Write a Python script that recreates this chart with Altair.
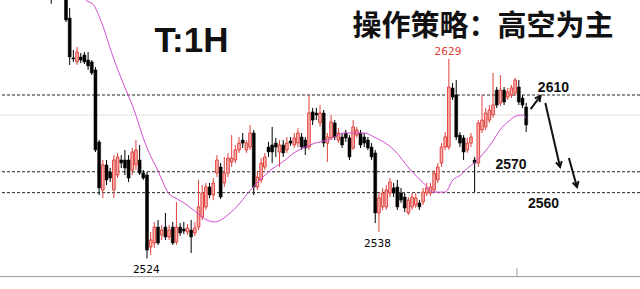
import altair as alt
import pandas as pd

# ---- candle data (price units) ----
opens = [2668, 2662, 2666, 2664, 2662, 2650.5, 2629.5, 2627.4, 2630.0, 2631.1,
         2628.4, 2627.4, 2623.2, 2585.3, 2560.0, 2573.2, 2569.5, 2560.0, 2567.9, 2575.8,
         2575.8, 2575.8, 2570.5, 2573.2, 2575.8, 2568.9, 2567.9, 2530.0, 2532.1, 2540.5,
         2536.3, 2540.5, 2535.3, 2540.5, 2532.6, 2540.5, 2539.5, 2537.9, 2538.9, 2537.4,
         2540.5, 2545.8, 2551.1, 2561.6, 2557.4, 2568.9, 2572.1, 2563.7, 2568.9, 2574.7,
         2575.8, 2581.1, 2586.3, 2581.1, 2582.6, 2590.0, 2561.6, 2565.3, 2572.1, 2582.6,
         2583.7, 2584.7, 2580.0, 2583.7, 2581.1, 2585.8, 2583.7, 2584.7, 2587.9, 2586.3,
         2582.6, 2601.1, 2600.5, 2595.3, 2600.5, 2584.7, 2587.4, 2595.3, 2586.3, 2587.9,
         2590.0, 2587.4, 2582.1, 2588.9, 2590.0, 2587.9, 2586.3, 2582.6, 2579.5, 2547.9,
         2551.1, 2551.1, 2558.4, 2561.1, 2561.6, 2558.4, 2556.3, 2547.9, 2551.1, 2552.1,
         2553.2, 2553.7, 2558.4, 2558.4, 2560.0, 2565.3, 2574.2, 2582.6, 2582.6, 2613.7,
         2610.0, 2588.9, 2587.4, 2581.1, 2584.7, 2575.8, 2574.2, 2591.6, 2593.2, 2596.8,
         2599.5, 2612.6, 2605.8, 2612.6, 2608.9, 2610.0, 2611.1, 2614.2, 2608.4, 2603.7]
highs = [2672, 2670, 2669, 2667, 2664, 2655.8, 2633.7, 2635.3, 2632.1, 2632.6,
         2632.6, 2628.4, 2624.7, 2586.3, 2575.8, 2575.8, 2571.6, 2578.4, 2579.5, 2578.4,
         2581.1, 2578.4, 2582.1, 2586.3, 2583.7, 2570.5, 2569.5, 2537.9, 2543.2, 2544.2,
         2541.6, 2547.9, 2541.6, 2543.2, 2553.7, 2542.6, 2543.2, 2542.1, 2544.2, 2543.2,
         2565.3, 2562.6, 2563.7, 2563.7, 2566.3, 2578.4, 2574.2, 2577.4, 2579.5, 2588.9,
         2583.7, 2587.9, 2590.0, 2586.3, 2594.2, 2591.6, 2569.5, 2576.8, 2579.5, 2585.3,
         2593.2, 2587.4, 2586.3, 2586.3, 2587.9, 2587.9, 2590.0, 2592.6, 2590.0, 2587.9,
         2610.0, 2603.2, 2603.2, 2604.7, 2602.1, 2590.0, 2599.5, 2596.8, 2592.6, 2590.0,
         2591.6, 2588.9, 2596.8, 2593.2, 2591.6, 2590.0, 2587.9, 2584.7, 2581.1, 2558.4,
         2561.1, 2562.6, 2566.3, 2563.7, 2565.3, 2561.1, 2558.4, 2556.3, 2558.4, 2558.4,
         2554.7, 2561.1, 2563.7, 2563.7, 2570.5, 2574.2, 2584.7, 2590.5, 2629.0, 2616.3,
         2617.9, 2590.5, 2588.9, 2587.4, 2590.0, 2577.4, 2596.8, 2610.0, 2603.2, 2604.7,
         2621.6, 2614.2, 2620.5, 2614.2, 2613.7, 2615.3, 2619.0, 2617.9, 2610.0, 2605.8]
lows = [2658, 2661, 2661, 2661, 2648.4, 2625.8, 2627.4, 2625.8, 2626.8, 2626.3,
        2623.2, 2620.5, 2580.0, 2557.4, 2555.8, 2562.6, 2564.2, 2555.8, 2566.3, 2571.6,
        2567.9, 2564.2, 2567.9, 2570.5, 2567.9, 2565.3, 2524.0, 2525.8, 2529.5, 2531.1,
        2533.7, 2533.7, 2533.7, 2531.1, 2531.1, 2535.8, 2536.8, 2536.3, 2526.8, 2535.8,
        2538.9, 2544.2, 2549.5, 2555.8, 2554.7, 2566.8, 2555.3, 2561.6, 2566.8, 2572.1,
        2574.2, 2579.5, 2582.1, 2579.5, 2581.1, 2557.4, 2560.0, 2563.7, 2570.5, 2577.4,
        2574.2, 2577.4, 2572.1, 2577.4, 2579.5, 2583.2, 2582.1, 2582.6, 2581.1, 2578.4,
        2581.1, 2594.2, 2596.8, 2593.2, 2582.6, 2574.7, 2586.3, 2586.3, 2584.7, 2582.1,
        2585.3, 2575.8, 2581.1, 2587.4, 2582.1, 2582.6, 2581.1, 2575.8, 2542.6, 2538.0,
        2549.5, 2549.5, 2556.3, 2556.3, 2549.5, 2553.2, 2548.4, 2546.8, 2549.5, 2550.5,
        2549.5, 2552.1, 2556.8, 2556.8, 2558.4, 2563.7, 2572.1, 2581.1, 2581.1, 2607.4,
        2586.3, 2582.6, 2575.8, 2579.5, 2582.6, 2558.9, 2572.1, 2590.0, 2591.6, 2595.3,
        2597.9, 2603.2, 2604.2, 2604.7, 2607.4, 2608.4, 2609.5, 2604.7, 2603.2, 2590.5]
closes = [2662, 2666, 2663, 2661.5, 2649.5, 2630.0, 2629.0, 2632.6, 2628.4, 2627.4,
          2625.3, 2621.6, 2581.1, 2561.1, 2573.2, 2565.3, 2566.3, 2575.8, 2577.4, 2574.2,
          2571.6, 2566.3, 2580.0, 2581.1, 2568.9, 2566.3, 2528.4, 2533.7, 2540.5, 2532.1,
          2538.9, 2535.3, 2538.9, 2532.1, 2540.5, 2537.4, 2538.4, 2540.0, 2535.3, 2540.0,
          2551.1, 2558.4, 2561.6, 2557.4, 2563.7, 2575.8, 2556.3, 2568.9, 2576.8, 2576.8,
          2581.1, 2584.7, 2584.7, 2584.7, 2590.0, 2561.6, 2566.8, 2574.2, 2577.4, 2580.0,
          2580.0, 2582.6, 2583.7, 2579.5, 2584.7, 2584.7, 2587.4, 2590.0, 2582.6, 2582.1,
          2600.5, 2596.8, 2599.5, 2600.5, 2584.7, 2587.9, 2595.8, 2587.9, 2590.0, 2583.7,
          2587.4, 2577.4, 2593.2, 2591.6, 2583.7, 2584.7, 2582.1, 2577.4, 2547.9, 2555.8,
          2558.4, 2560.0, 2564.2, 2558.4, 2551.1, 2554.7, 2550.5, 2554.7, 2556.3, 2555.8,
          2551.1, 2558.9, 2561.1, 2561.6, 2568.9, 2572.1, 2582.6, 2587.9, 2614.2, 2608.9,
          2587.9, 2584.7, 2580.0, 2584.7, 2587.9, 2574.2, 2595.3, 2596.8, 2600.5, 2602.1,
          2604.7, 2604.7, 2612.6, 2606.3, 2611.6, 2613.7, 2617.9, 2606.3, 2604.7, 2594.2]

# ---- moving average ----
ma_pos = [7.0, 9.4, 11.5, 13.4, 16.8, 19.5, 22.2, 25.7, 27.5, 28.9, 30.2, 31.8, 34.2,
          36.9, 39.6, 42.3, 44.4, 48.9, 55.1, 59.6, 62.8, 66.3, 69.0, 71.7, 75.1, 79.7,
          85.0, 87.7, 93.1, 97.6, 101.1, 103.7, 107.0, 109.1, 111.2, 113.1, 115.2, 117.7,
          119.8, 121.9, 124.3, 126.2, 128.1, 128.9]
ma_val = [2668.0, 2660.0, 2657.4, 2649.5, 2630.0, 2616.3, 2603.7, 2583.7, 2575.8, 2570.5,
          2564.7, 2558.4, 2555.3, 2552.1, 2547.9, 2544.2, 2543.2, 2548.4, 2562.1, 2570.5,
          2574.7, 2580.0, 2582.6, 2584.7, 2586.3, 2590.0, 2590.0, 2587.9, 2581.1, 2570.5,
          2563.7, 2558.9, 2558.9, 2565.3, 2567.9, 2571.6, 2574.7, 2580.0, 2585.3, 2591.6,
          2596.3, 2598.9, 2599.5, 2597.9]

# ---- levels and annotations ----
level_vals = [2610, 2569.6, 2558.6]
ref_level = [2599.5]

label_text = ["2629", "2524", "2538"]
label_pos = [107.75, 25.8, 88.6]
label_price = [2631.1, 2516.3, 2530.0]
label_kind = ["high", "low", "low"]

target_text = ["2610", "2570", "2560"]
target_pos = [136.4, 124.9, 133.7]
target_price = [2611.6, 2571.1, 2550.5]

arrow_x0 = [130.2, 134.2, 140.6]
arrow_y0 = [2602.6, 2605.8, 2576.8]
arrow_x1 = [132.9, 138.2, 142.8]
arrow_y1 = [2609.5, 2572.1, 2561.6]
arrow_angle = [38, 167, 165]

X_DOMAIN = [-12.57, 158.56]
Y_DOMAIN = [2507.9, 2660.0]
axis_price = [2514.4]
tick_pos = [126.5]
tick_top = [2518.9]

RED = "#e0413c"
PINK = "#f6b3b0"
BLACK = "#000000"
MAGENTA = "#d04cd0"

xs = alt.Scale(domain=X_DOMAIN, nice=False, zero=False)
ys = alt.Scale(domain=Y_DOMAIN, nice=False, zero=False)

n = len(opens)
df = pd.DataFrame({"i": list(range(n)), "o": opens, "h": highs, "l": lows, "c": closes})
df["dir"] = ["up" if c >= o else "down" for o, c in zip(df.o, df.c)]

X = alt.X("i:Q", scale=xs, axis=None)

levels = alt.Chart(pd.DataFrame({"v": level_vals})).mark_rule(
    color="#222222", strokeWidth=1, strokeDash=[3, 2]
).encode(y=alt.Y("v:Q", scale=ys, axis=None))

ref = alt.Chart(pd.DataFrame({"v": ref_level})).mark_rule(
    color="#c4c4c4", strokeWidth=1, strokeDash=[1, 1]
).encode(y=alt.Y("v:Q", scale=ys, axis=None))

wicks = alt.Chart(df).mark_rule(strokeWidth=1, clip=True).encode(
    x=X,
    y=alt.Y("l:Q", scale=ys, axis=None),
    y2="h:Q",
    color=alt.Color("dir:N", scale=alt.Scale(domain=["up", "down"], range=[RED, BLACK]), legend=None),
)

down_bodies = alt.Chart(df[df.dir == "down"]).mark_bar(
    size=3, fill=BLACK, stroke=BLACK, strokeWidth=0.5, clip=True
).encode(x=X, y=alt.Y("o:Q", scale=ys, axis=None), y2="c:Q")

up_bodies = alt.Chart(df[df.dir == "up"]).mark_bar(
    size=2.6, fill=PINK, stroke=RED, strokeWidth=1, clip=True
).encode(x=X, y=alt.Y("o:Q", scale=ys, axis=None), y2="c:Q")

ma = alt.Chart(pd.DataFrame({"p": ma_pos, "v": ma_val})).mark_line(
    color=MAGENTA, strokeWidth=1, interpolate="monotone", clip=True
).encode(x=alt.X("p:Q", scale=xs, axis=None), y=alt.Y("v:Q", scale=ys, axis=None))

lab_df = pd.DataFrame({"t": label_text, "p": label_pos, "v": label_price, "k": label_kind})
labels = alt.Chart(lab_df).mark_text(
    font="DejaVu Sans", fontSize=10.5, baseline="alphabetic", align="center"
).encode(
    x=alt.X("p:Q", scale=xs, axis=None),
    y=alt.Y("v:Q", scale=ys, axis=None),
    text="t:N",
    color=alt.Color("k:N", scale=alt.Scale(domain=["high", "low"], range=[RED, "#111111"]), legend=None),
)

tgt_df = pd.DataFrame({"t": target_text, "p": target_pos, "v": target_price})
targets = alt.Chart(tgt_df).mark_text(
    font="Liberation Sans", fontSize=14, fontWeight="bold", baseline="alphabetic",
    align="center", color="#111111"
).encode(x=alt.X("p:Q", scale=xs, axis=None), y=alt.Y("v:Q", scale=ys, axis=None), text="t:N")

arr_df = pd.DataFrame({"x0": arrow_x0, "y0": arrow_y0, "x1": arrow_x1, "y1": arrow_y1, "a": arrow_angle})
arrow_lines = alt.Chart(arr_df).mark_rule(color="#111111", strokeWidth=2).encode(
    x=alt.X("x0:Q", scale=xs, axis=None), y=alt.Y("y0:Q", scale=ys, axis=None),
    x2="x1:Q", y2="y1:Q",
)
arrow_heads = alt.Chart(arr_df).mark_point(
    shape="M -0.55 1 L 0 0 L 0.55 1", filled=False, stroke="#111111", strokeWidth=2,
    size=120, opacity=1
).encode(
    x=alt.X("x1:Q", scale=xs, axis=None), y=alt.Y("y1:Q", scale=ys, axis=None),
    angle=alt.Angle("a:Q", scale=None),
)

axis_line = alt.Chart(pd.DataFrame({"v": axis_price})).mark_rule(
    color="#9a9a9a", strokeWidth=1
).encode(y=alt.Y("v:Q", scale=ys, axis=None))

axis_tick = alt.Chart(pd.DataFrame({"p": tick_pos, "a": axis_price, "b": tick_top})).mark_rule(
    color="#9a9a9a", strokeWidth=1
).encode(x=alt.X("p:Q", scale=xs, axis=None), y=alt.Y("a:Q", scale=ys, axis=None), y2="b:Q")

title1 = alt.Chart(pd.DataFrame({"t": ["T:1H"]})).mark_text(
    font="Liberation Sans", fontSize=35, fontWeight="bold", baseline="alphabetic",
    align="center", color="#111111"
).encode(text="t:N", x=alt.value(191.5), y=alt.value(52))

title2 = alt.Chart(pd.DataFrame({"t": ["操作策略：高空为主"]})).mark_text(
    font="Noto Sans CJK SC", fontSize=29, fontWeight="bold", baseline="alphabetic",
    align="center", color="#111111"
).encode(text="t:N", x=alt.value(483), y=alt.value(36))

chart = alt.layer(
    ref, levels, axis_line, axis_tick, wicks, down_bodies, up_bodies, ma,
    labels, targets, arrow_lines, arrow_heads, title1, title2
).properties(
    width=640, height=289, padding=0, autosize=alt.AutoSizeParams(type="none"),
    background="white"
).configure_view(stroke=None)

chart.save("out.html", embed_options={"renderer": "svg", "actions": False})
